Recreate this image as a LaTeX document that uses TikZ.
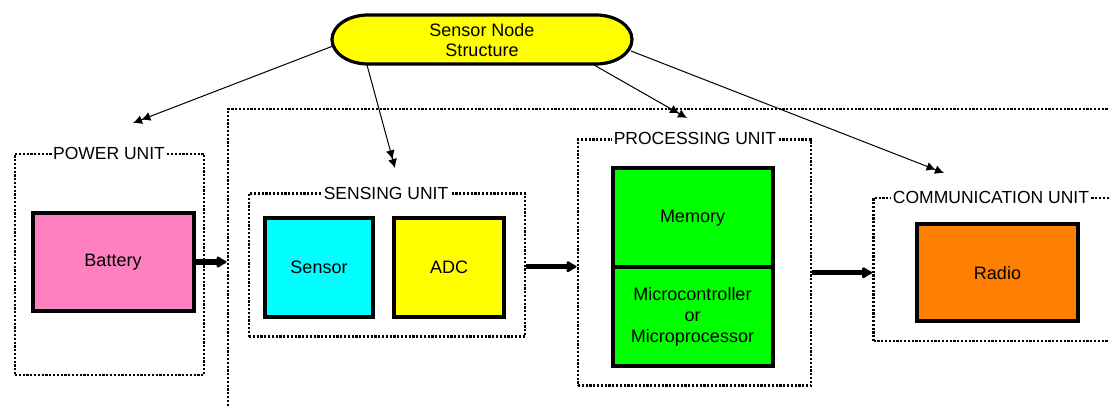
\documentclass[tikz,border=0pt]{standalone}
\usepackage{fontspec}
\setmainfont{Liberation Sans}
\usetikzlibrary{arrows.meta}
\definecolor{pinkbat}{HTML}{FF80C0}
\definecolor{cyanbox}{HTML}{00FFFF}
\definecolor{yelbox}{HTML}{FFFF00}
\definecolor{greenbox}{HTML}{00FF00}
\definecolor{orangebox}{HTML}{FF8000}
\begin{document}
\begin{tikzpicture}[x=1pt,y=-1pt,
  blk/.style={draw,line width=4pt,inner sep=0pt,font=\fontsize{18}{21}\selectfont,align=center},
  unit/.style={draw,line width=2.8pt,dash pattern=on 2.2pt off 1.6pt,inner sep=0pt},
  ulabel/.style={fill=white,inner sep=1.5pt,font=\fontsize{17.5}{20}\selectfont},
  thinarrow/.style={line width=1pt,-{Latex[length=9pt,width=9pt]Latex[length=9pt,width=9pt]}},
  thickarrow/.style={line width=5.5pt,-{Latex[length=12pt,width=14pt,round]}}]
\useasboundingbox (0,0) rectangle (1109,407);
\clip (0,0) rectangle (1109,407);

% outer dotted frame (runs off the picture)
\node[unit,minimum width=972pt,minimum height=391pt] (outer) at (714,304.5) {};

% power unit
\node[unit,minimum width=189pt,minimum height=221pt] (power) at (109.5,264.5) {};
\node[ulabel] (powerlbl) at (109,153.3) {POWER UNIT};
\node[blk,fill=pinkbat,minimum width=161pt,minimum height=97.5pt] (battery) at (113,262) {Battery};

% sensing unit
\node[unit,minimum width=276pt,minimum height=143pt] (sensing) at (387,265) {};
\node[ulabel] (sensinglbl) at (386,193.3) {SENSING UNIT};
\node[blk,fill=cyanbox,minimum width=108pt,minimum height=98.5pt] (sensor) at (319,267.7) {Sensor};
\node[blk,fill=yelbox,minimum width=110pt,minimum height=98.5pt] (adc) at (449,267.7) {ADC};

% processing unit
\node[unit,minimum width=233pt,minimum height=246pt] (proc) at (694.5,262.5) {};
\node[ulabel] (proclbl) at (695,138.5) {PROCESSING UNIT};
\node[blk,fill=greenbox,minimum width=160pt,minimum height=98.5pt] (memory) at (692.5,217.7) {Memory};
\node[blk,fill=greenbox,minimum width=160pt,minimum height=99.5pt] (micro) at (692.5,316.7) {Microcontroller\\or\\Microprocessor};

% communication unit
\node[unit,minimum width=257pt,minimum height=143pt] (comm) at (1002,269.5) {};
\node[ulabel] (commlbl) at (991,197.5) {COMMUNICATION UNIT};
\node[blk,fill=orangebox,minimum width=161pt,minimum height=97.5pt] (radio) at (997.5,272.7) {Radio};

% top node
\draw[line width=3.2pt,fill=yelbox] (368,15) -- (596,15)
  arc[start angle=-90,end angle=90,x radius=36,y radius=24.5] -- (368,64)
  arc[start angle=90,end angle=270,x radius=36,y radius=24.5] -- cycle;
\node[font=\fontsize{18}{20.5}\selectfont,align=center,inner sep=0pt] (top) at (482,40) {Sensor Node\\Structure};

\coordinate (s1) at (333,46);
\coordinate (s2) at (367,65);
\coordinate (s3) at (594,65);
\coordinate (s4) at (631,51);
\coordinate (t1) at (133,123);
\coordinate (t2) at (395,168);
\coordinate (t3) at (687,118);
\coordinate (t4) at (944,173);
\draw[thinarrow] (s1) -- (t1);
\draw[thinarrow] (s2) -- (t2);
\draw[thinarrow] (s3) -- (t3);
\draw[thinarrow] (s4) -- (t4);

% thick connectors
\draw[thickarrow] (battery.east) -- (battery.east -| outer.west);
\draw[thickarrow] ([yshift=-1.7pt]sensing.east) -- ([yshift=-1.7pt]sensing.east -| proc.west);
\draw[thickarrow] (proc.east |- radio.center) -- (comm.west |- radio.center);
\end{tikzpicture}
\end{document}
